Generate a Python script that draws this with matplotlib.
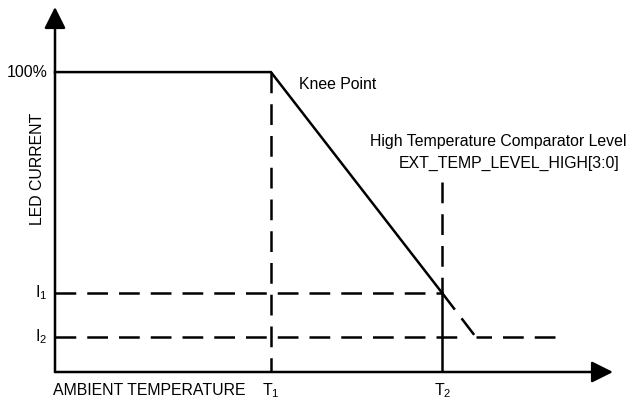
import matplotlib.pyplot as plt

plt.rcParams['font.family'] = ['Liberation Sans', 'DejaVu Sans']
plt.rcParams['mathtext.fontset'] = 'custom'
plt.rcParams['mathtext.rm'] = 'Liberation Sans'
plt.rcParams['mathtext.it'] = 'Liberation Sans:italic'

# Schematic derating curve (arbitrary temperature units, current in %)
T1 = 38.7          # knee point temperature
T2 = 69.4          # high temperature comparator level
T_floor = 75.4     # where the extended slope reaches I2
T_end = 89.6       # end of the I2 floor line
I_max = 100.0      # full LED current
I1 = 26.3
I2 = 11.7
T2_marker_top = 63.3
I2_guide_end = 72.2

curve_T = [0, T1, T2]
curve_I = [I_max, I_max, I1]
ext_T = [T2, T_floor]
ext_I = [I1, I2]
floor_T = [T_end, T_floor]
floor_I = [I2, I2]

x_max = 100.0
y_max = 121.7

fs = 11.4
lw = 1.8
dash = (0, (8.3, 4.4))

fig = plt.figure(figsize=(6.29, 4), dpi=100)
ax = fig.add_axes([55 / 629, 28 / 400, 558 / 629, 365 / 400])
ax.set_xlim(0, x_max)
ax.set_ylim(0, y_max)
ax.axis('off')

# axes with arrow heads
arrow = dict(arrowstyle='-|>,head_length=1.0,head_width=0.5', mutation_scale=13,
             lw=lw, color='black', shrinkA=0, shrinkB=0)
ax.annotate('', xy=(0, y_max), xytext=(0, 0), arrowprops=arrow, annotation_clip=False)
ax.annotate('', xy=(x_max, 0), xytext=(0, 0), arrowprops=arrow, annotation_clip=False)

# current vs temperature
ax.plot(curve_T, curve_I, color='black', lw=lw, solid_joinstyle='miter', clip_on=False)
ax.plot(ext_T, ext_I, color='black', lw=lw, linestyle=dash, clip_on=False)
ax.plot(floor_T, floor_I, color='black', lw=lw, linestyle=dash, clip_on=False)

# guide lines
ax.plot([T1, T1], [I_max, 0], color='black', lw=lw, linestyle=dash)
ax.plot([0, T2], [I1, I1], color='black', lw=lw, linestyle=dash)
ax.plot([0, I2_guide_end], [I2, I2], color='black', lw=lw, linestyle=dash)
ax.plot([T2, T2], [T2_marker_top, I1], color='black', lw=lw, linestyle=dash)
ax.plot([T2, T2], [I1, 0], color='black', lw=lw)

# labels
ax.text(-1.25, I_max, '100%', ha='right', va='center', fontsize=fs)
ax.text(-1.45, I1, r'I$_1$', ha='right', va='center', fontsize=fs)
ax.text(-1.45, I2, r'I$_2$', ha='right', va='center', fontsize=fs)
ax.text(-3.1, 67.7, 'LED CURRENT', rotation=90, ha='center', va='center', fontsize=fs)
ax.text(-0.36, -6.3, 'AMBIENT TEMPERATURE', ha='left', va='center', fontsize=fs)
ax.text(T1, -6.3, r'T$_1$', ha='center', va='center', fontsize=fs)
ax.text(T2, -6.3, r'T$_2$', ha='center', va='center', fontsize=fs)
ax.text(43.7, 95.7, 'Knee Point', ha='left', va='center', fontsize=fs)
ax.text(56.45, 77.0, 'High Temperature Comparator Level', ha='left', va='center', fontsize=fs)
ax.text(61.65, 69.7, 'EXT_TEMP_LEVEL_HIGH[3:0]', ha='left', va='center', fontsize=fs)

fig.savefig('out.png', dpi=100)
